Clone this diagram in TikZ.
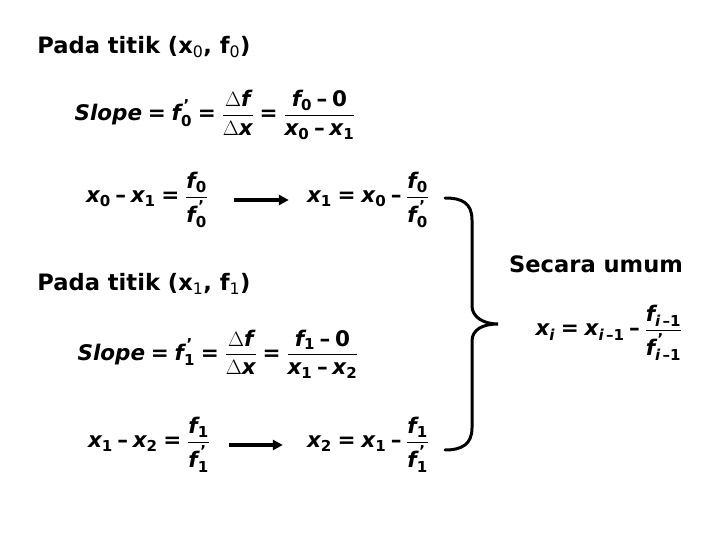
\documentclass[tikz,border=0pt]{standalone}
\usepackage{amsmath}
\usepackage{fontspec}
\setmainfont{DejaVu Sans}
\usetikzlibrary{arrows.meta}
\newcommand{\mv}[1]{\text{\bfseries\itshape #1}}
\newcommand{\ms}[1]{\text{\bfseries #1}}
\newcommand{\pr}{^{\text{\bfseries\,'}}}
\newcommand{\meq}{\mathrel{\ms{=}}}
\newcommand{\mmin}{\mathbin{\ms{--}}}
\newcommand{\ffrac}[2]{\dfrac{#1}{#2}}

\begin{document}
\begin{tikzpicture}[x=1pt,y=-1pt,
                    title node/.style={font=\bfseries\fontsize{22.6}{27}\selectfont,inner sep=0pt},
                    eq node/.style={font=\fontsize{21.5}{26}\selectfont,inner sep=0pt},
                    main arrow/.style={-{Triangle[length=10pt,width=10pt]},line width=3.4pt},
                    brace line/.style={line width=3pt,line cap=round}]

  \useasboundingbox (0,0) rectangle (720,540);

  \node[title node] (title1) at (144,47) {Pada titik (x$_{\text{\mdseries 0}}$, f$_{\text{\mdseries 0}}$)};
  \node[eq node] (slope1) at (215,115) {$\mv{Slope}\meq\mv{f}_{\ms{0}}\pr\meq\ffrac{\Delta\mv{f}}{\Delta\mv{x}}\meq\ffrac{\mv{f}_{\ms{0}}\mmin\ms{0}}{\mv{x}_{\ms{0}}\mmin\mv{x}_{\ms{1}}}$};
  \node[eq node] (left1) at (147,200) {$\mv{x}_{\ms{0}}\mmin\mv{x}_{\ms{1}}\meq\ffrac{\mv{f}_{\ms{0}}}{\mv{f}_{\ms{0}}\pr}$};
  \node[eq node] (right1) at (368,200) {$\mv{x}_{\ms{1}}\meq\mv{x}_{\ms{0}}\mmin\ffrac{\mv{f}_{\ms{0}}}{\mv{f}_{\ms{0}}\pr}$};

  \node[title node] (title2) at (144,284) {Pada titik (x$_{\text{\mdseries 1}}$, f$_{\text{\mdseries 1}}$)};
  \node[eq node] (slope2) at (218,354) {$\mv{Slope}\meq\mv{f}_{\ms{1}}\pr\meq\ffrac{\Delta\mv{f}}{\Delta\mv{x}}\meq\ffrac{\mv{f}_{\ms{1}}\mmin\ms{0}}{\mv{x}_{\ms{1}}\mmin\mv{x}_{\ms{2}}}$};
  \node[eq node] (left2) at (149,445) {$\mv{x}_{\ms{1}}\mmin\mv{x}_{\ms{2}}\meq\ffrac{\mv{f}_{\ms{1}}}{\mv{f}_{\ms{1}}\pr}$};
  \node[eq node] (right2) at (368,445) {$\mv{x}_{\ms{2}}\meq\mv{x}_{\ms{1}}\mmin\ffrac{\mv{f}_{\ms{1}}}{\mv{f}_{\ms{1}}\pr}$};

  \node[title node] (title3) at (596,264) {Secara umum};
  \node[eq node] (general) at (609,333) {$\mv{x}_{\mv{i}}\meq\mv{x}_{\mv{i}\,\ms{--1}}\mmin\ffrac{\mv{f}_{\mv{i}\,\ms{--1}}}{\mv{f}_{\mv{i}\,\ms{--1}}\pr}$};

  \coordinate (top) at (445,198);
  \coordinate (tip) at (498,324);
  \coordinate (bottom) at (445,450);

  \draw[main arrow,shorten <=26pt,shorten >=18pt] (left1.east) -- (right1.west);
  \draw[main arrow,shorten <=19pt,shorten >=24pt] (left2.east) -- (right2.west);

  \draw[brace line] (top) .. controls (462,198) and (472,203) .. (472,220)
    -- (472,306) .. controls (472,316) and (482,324) .. (tip)
    .. controls (482,324) and (472,330) .. (472,341)
    -- (472,428) .. controls (472,444) and (462,450) .. (bottom);

\end{tikzpicture}
\end{document}
